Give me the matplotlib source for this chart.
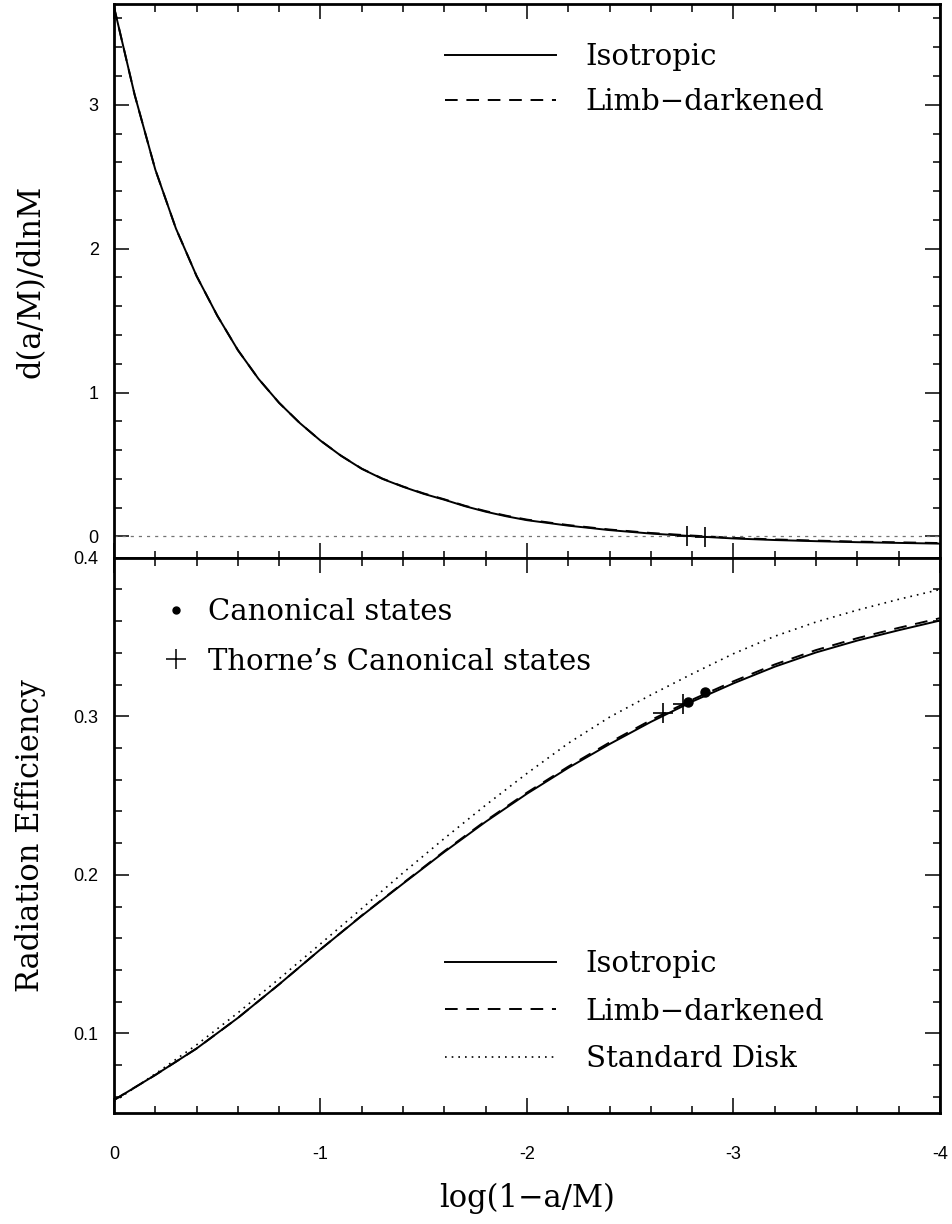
import numpy as np
import matplotlib
matplotlib.use('Agg')
import matplotlib.pyplot as plt
from matplotlib.lines import Line2D
from matplotlib.ticker import MultipleLocator

plt.rcParams.update({
    'font.family': 'DejaVu Serif',
    'axes.unicode_minus': False,
    'axes.linewidth': 2.0,
    'xtick.direction': 'in',
    'ytick.direction': 'in',
    'xtick.top': True,
    'ytick.right': True,
    'xtick.major.size': 10.8,
    'ytick.major.size': 10.8,
    'xtick.minor.size': 5.4,
    'ytick.minor.size': 5.4,
    'xtick.major.width': 1.1,
    'ytick.major.width': 1.1,
    'xtick.minor.width': 1.1,
    'ytick.minor.width': 1.1,
})

# ---- top panel: spin-up rate d(a/M)/dlnM vs log(1-a/M)
x_top = [0.0, -0.1, -0.2, -0.3, -0.4, -0.5, -0.6, -0.7, -0.8, -0.9, -1.0,
         -1.1, -1.2, -1.3, -1.4, -1.5, -1.6, -1.7, -1.8, -1.9, -2.0,
         -2.2, -2.4, -2.6, -2.8, -3.0, -3.2, -3.4, -3.6, -3.8, -4.0]
spin_iso = [3.68, 3.07, 2.55, 2.14, 1.81, 1.535, 1.295, 1.095, 0.928, 0.788, 0.666,
            0.560, 0.470, 0.400, 0.345, 0.296, 0.255, 0.210, 0.172, 0.140, 0.113,
            0.075, 0.044, 0.020, 0.002, -0.014, -0.025, -0.033, -0.040, -0.045, -0.050]
spin_limb = [3.68, 3.07, 2.55, 2.14, 1.81, 1.535, 1.295, 1.095, 0.928, 0.788, 0.666,
             0.561, 0.471, 0.402, 0.347, 0.299, 0.258, 0.213, 0.176, 0.144, 0.117,
             0.079, 0.048, 0.024, 0.006, -0.010, -0.021, -0.029, -0.036, -0.041, -0.046]
thorne_top_x = [-2.776, -2.860]
thorne_top_y = [0.003, -0.004]

# ---- bottom panel: radiation efficiency
x_bot = [0.0, -0.2, -0.4, -0.6, -0.8, -1.0, -1.2, -1.4, -1.6, -1.8, -2.0,
         -2.2, -2.4, -2.6, -2.8, -3.0, -3.2, -3.4, -3.6, -3.8, -4.0]
eff_iso = [0.058, 0.0738, 0.0905, 0.1098, 0.1310, 0.1530, 0.1742, 0.1945, 0.2145, 0.2335, 0.2512,
           0.2675, 0.2825, 0.2965, 0.3093, 0.3208, 0.3313, 0.3403, 0.3478, 0.3543, 0.3604]
eff_limb = [0.058, 0.0738, 0.0905, 0.1098, 0.1310, 0.1530, 0.1744, 0.1948, 0.2150, 0.2341, 0.2519,
            0.2683, 0.2835, 0.2976, 0.3105, 0.3221, 0.3327, 0.3418, 0.3493, 0.3558, 0.3619]
eff_std = [0.057, 0.0745, 0.0928, 0.1130, 0.1345, 0.1565, 0.1788, 0.2013, 0.2230, 0.2440, 0.2640,
           0.2830, 0.2995, 0.3135, 0.3268, 0.3395, 0.3505, 0.3595, 0.3670, 0.3738, 0.3800]
canon_x = [-2.778, -2.862]
canon_y = [0.3088, 0.3154]
thorne_x = [-2.660, -2.754]
thorne_y = [0.3019, 0.3077]

LW = 1.4
DASH = (0, (6.5, 4.5))
DOT = (0, (1, 3))
FS_LEG = 21
FS_LAB = 22

fig = plt.figure(figsize=(9.53, 12.24), dpi=100)
ax1 = fig.add_axes([0.1196, 0.5441, 0.8667, 0.4526])
ax2 = fig.add_axes([0.1196, 0.0909, 0.8667, 0.4534])

# top panel
ax1.plot(x_top, spin_iso, color='black', lw=LW, label='Isotropic')
ax1.plot(x_top, spin_limb, color='black', lw=LW, linestyle=DASH, label='Limb\u2212darkened')
ax1.axhline(0, color='0.45', lw=0.9, linestyle=(0, (2.5, 4)))
ax1.plot(thorne_top_x, thorne_top_y, '+', color='black', ms=15, mew=1.2)
ax1.set_xlim(0, -4)
ax1.set_ylim(-0.15, 3.7)
ax1.yaxis.set_major_locator(MultipleLocator(1))
ax1.yaxis.set_minor_locator(MultipleLocator(0.2))
ax1.xaxis.set_major_locator(MultipleLocator(1))
ax1.xaxis.set_minor_locator(MultipleLocator(0.2))
ax1.tick_params(axis='x', labelbottom=False)
ax1.tick_params(axis='y', labelsize=13, pad=11)
for lab in ax1.get_yticklabels():
    lab.set_family('Liberation Sans')
ax1.set_ylabel('d(a/M)/dlnM', fontsize=FS_LAB, labelpad=30)
ax1.legend(loc='upper left', bbox_to_anchor=(0.4007, 0.93), frameon=False,
           fontsize=FS_LEG, handlelength=3.8, handletextpad=1.03, labelspacing=0.58,
           borderpad=0, borderaxespad=0)

# bottom panel
l1, = ax2.plot(x_bot, eff_iso, color='black', lw=LW, label='Isotropic')
l2, = ax2.plot(x_bot, eff_limb, color='black', lw=LW, linestyle=DASH, label='Limb\u2212darkened')
l3, = ax2.plot(x_bot, eff_std, color='black', lw=1.2, linestyle=DOT, label='Standard Disk')
ax2.plot(canon_x, canon_y, 'o', color='black', ms=6.5)
ax2.plot(thorne_x, thorne_y, '+', color='black', ms=15, mew=1.2)
ax2.set_xlim(0, -4)
ax2.set_ylim(0.05, 0.4)
ax2.yaxis.set_major_locator(MultipleLocator(0.1))
ax2.yaxis.set_minor_locator(MultipleLocator(0.02))
ax2.xaxis.set_major_locator(MultipleLocator(1))
ax2.xaxis.set_minor_locator(MultipleLocator(0.2))
ax2.tick_params(axis='both', labelsize=13)
ax2.tick_params(axis='x', pad=24)
ax2.tick_params(axis='y', pad=11)
for lab in ax2.get_xticklabels() + ax2.get_yticklabels():
    lab.set_family('Liberation Sans')
ax2.set_yticks([0.1, 0.2, 0.3, 0.4])
ax2.set_ylabel('Radiation Efficiency', fontsize=FS_LAB, labelpad=20)
ax2.set_xlabel('log(1\u2212a/M)', fontsize=FS_LAB, labelpad=14)

mark_handles = [Line2D([], [], marker='o', color='black', ls='none', ms=5),
                Line2D([], [], marker='+', color='black', ls='none', ms=14, mew=1.1)]
leg_marks = ax2.legend(mark_handles, ['Canonical states', 'Thorne\u2019s Canonical states'],
                       loc='upper left', bbox_to_anchor=(0.061, 0.928), frameon=False,
                       fontsize=FS_LEG, handlelength=0.8, handletextpad=0.7, labelspacing=0.75,
                       borderpad=0, borderaxespad=0)
ax2.add_artist(leg_marks)
ax2.legend(handles=[l1, l2, l3], loc='upper left', bbox_to_anchor=(0.4007, 0.293),
           frameon=False, fontsize=FS_LEG, handlelength=3.8, handletextpad=1.03,
           labelspacing=0.67, borderpad=0, borderaxespad=0)

plt.savefig('out.png', dpi=100)
plt.close()
